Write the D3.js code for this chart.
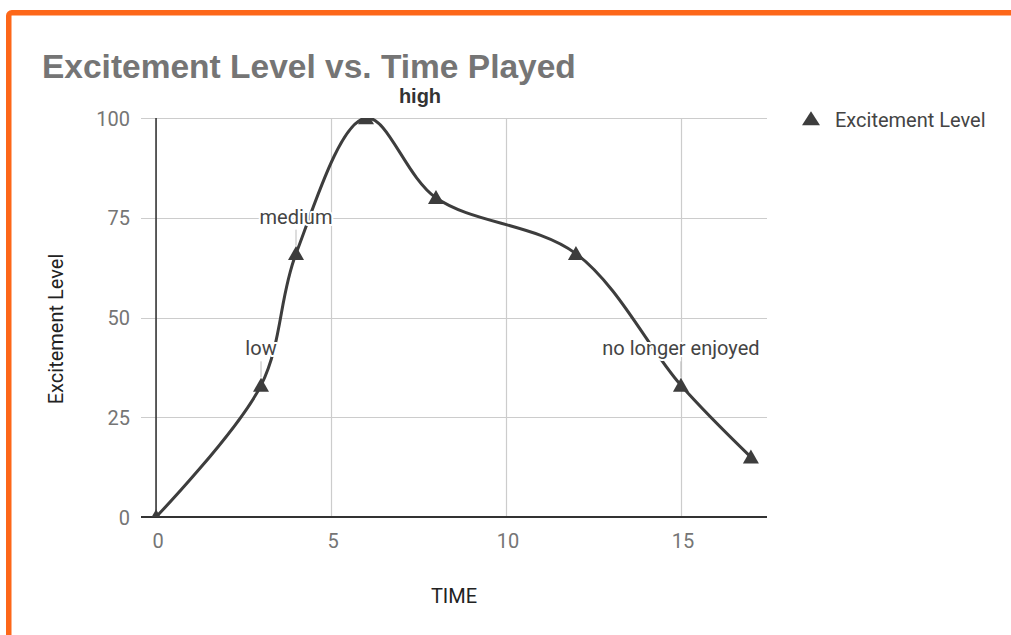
<!DOCTYPE html>
<html>
<head>
<meta charset="utf-8">
<script src="https://cdn.jsdelivr.net/npm/d3@7"></script>
<style>
  html, body { margin: 0; padding: 0; background: #fff; }
  svg { display: block; }
</style>
</head>
<body>
<svg id="chart" width="1011" height="635"></svg>
<script>
// Excitement level over time played
const chartTitle = "Excitement Level vs. Time Played";
const seriesName = "Excitement Level";
const xAxisTitle = "TIME";
const yAxisTitle = "Excitement Level";

const timePlayed = [0, 3, 4, 6, 8, 12, 15, 17];
const excitement = [0, 33, 66, 100, 80, 66, 33, 15];
const pointNotes = ["", "low", "medium", "high", "", "", "no longer enjoyed", ""];

const xTicks = [0, 5, 10, 15];
const yTicks = [0, 25, 50, 75, 100];

const svg = d3.select("#chart");
const W = 1011, H = 635;

const plot = { left: 141, right: 767, top: 118, bottom: 517 };

const x = d3.scaleLinear().domain([-0.43, 17.46]).range([plot.left, plot.right]);
const y = d3.scaleLinear().domain([0, 100]).range([plot.bottom, plot.top]);

const ink = "#3d3d3d";
const tickColor = "#757575";
const labelFont = "Roboto, 'Noto Sans', sans-serif";

svg.append("rect").attr("width", W).attr("height", H).attr("fill", "#fff");

// orange frame running off the right and bottom edges
svg.append("rect")
  .attr("x", 8.75).attr("y", 12.75)
  .attr("width", 1100).attr("height", 800)
  .attr("rx", 3)
  .attr("fill", "none")
  .attr("stroke", "#fd6719")
  .attr("stroke-width", 5.5);

// title
svg.append("text")
  .attr("x", 42).attr("y", 78)
  .attr("font-family", "'Liberation Sans', Arial, sans-serif")
  .attr("font-weight", "bold")
  .attr("font-size", 33.5)
  .attr("fill", "#757575")
  .text(chartTitle);

// gridlines
const grid = svg.append("g");
grid.selectAll("line.h")
  .data(yTicks.filter(d => d !== 0))
  .join("line")
  .attr("x1", plot.left).attr("x2", plot.right)
  .attr("y1", d => Math.round(y(d)) + 0.5).attr("y2", d => Math.round(y(d)) + 0.5)
  .attr("stroke", "#cccccc").attr("stroke-width", 1.2);
grid.selectAll("line.v")
  .data(xTicks.filter(d => d !== 0))
  .join("line")
  .attr("y1", plot.top).attr("y2", plot.bottom)
  .attr("x1", d => Math.round(x(d)) + 0.5).attr("x2", d => Math.round(x(d)) + 0.5)
  .attr("stroke", "#cccccc").attr("stroke-width", 1.2);

// baselines
svg.append("line")
  .attr("x1", x(0)).attr("x2", x(0))
  .attr("y1", plot.top).attr("y2", plot.bottom)
  .attr("stroke", "#333").attr("stroke-width", 1.6);
svg.append("line")
  .attr("x1", plot.left).attr("x2", plot.right)
  .attr("y1", y(0)).attr("y2", y(0))
  .attr("stroke", "#333").attr("stroke-width", 2);

// tick labels via axes (domain and tick lines hidden)
const yAxis = d3.axisLeft(y).tickValues(yTicks).tickSize(0).tickPadding(0);
const yAxisG = svg.append("g").attr("transform", `translate(${plot.left - 11},0)`).call(yAxis);
const xAxis = d3.axisBottom(x).tickValues(xTicks).tickSize(0).tickPadding(0);
const xAxisG = svg.append("g").attr("transform", `translate(1.5,${plot.bottom})`).call(xAxis);
[yAxisG, xAxisG].forEach(g => {
  g.select(".domain").remove();
  g.selectAll("text")
    .attr("font-family", labelFont)
    .attr("font-size", 20)
    .attr("fill", tickColor);
});
yAxisG.selectAll("text").attr("dy", "0.36em");
xAxisG.selectAll("text").attr("dy", null).attr("y", 31);

// axis titles
svg.append("text")
  .attr("x", (plot.left + plot.right) / 2).attr("y", 603)
  .attr("text-anchor", "middle")
  .attr("font-family", labelFont).attr("font-size", 20)
  .attr("fill", "#222")
  .text(xAxisTitle);
svg.append("text")
  .attr("transform", "translate(63,329) rotate(-90)")
  .attr("text-anchor", "middle")
  .attr("font-family", labelFont).attr("font-size", 20)
  .attr("fill", "#222")
  .text(yAxisTitle);

// clipped plotting area
svg.append("clipPath").attr("id", "plotClip")
  .append("rect")
  .attr("x", plot.left).attr("y", plot.top)
  .attr("width", plot.right - plot.left).attr("height", plot.bottom - plot.top);

const data = timePlayed.map((t, i) => ({ t, v: excitement[i], note: pointNotes[i] }));

const plotG = svg.append("g").attr("clip-path", "url(#plotClip)");

const line = d3.line()
  .x(d => x(d.t))
  .y(d => y(d.v))
  .curve(d3.curveCatmullRom.alpha(0.5));

plotG.append("path")
  .datum(data)
  .attr("d", line)
  .attr("fill", "none")
  .attr("stroke", ink)
  .attr("stroke-width", 3)
  .attr("stroke-linejoin", "round");

const tri = (w, h) => `M0,${-h * 0.55}L${w / 2},${h * 0.45}L${-w / 2},${h * 0.45}Z`;

plotG.selectAll("path.pt")
  .data(data)
  .join("path")
  .attr("class", "pt")
  .attr("transform", d => `translate(${x(d.t)},${y(d.v)})`)
  .attr("d", tri(16, 14))
  .attr("fill", ink);

// annotations
const notes = data.filter(d => d.note);
const annG = svg.append("g");
notes.forEach(d => {
  const px = x(d.t), py = y(d.v);
  const atTop = d.v >= 100;
  if (atTop) {
    annG.append("text")
      .attr("x", px + 54).attr("y", py - 15)
      .attr("text-anchor", "middle")
      .attr("font-family", "'Liberation Sans', Arial, sans-serif")
      .attr("font-weight", "bold")
      .attr("font-size", 20)
      .attr("fill", "#333")
      .text(d.note);
  } else {
    annG.append("line")
      .attr("x1", px).attr("x2", px)
      .attr("y1", py - 24).attr("y2", py - 8)
      .attr("stroke", "#bbb").attr("stroke-width", 1);
    annG.append("text")
      .attr("x", px).attr("y", py - 30)
      .attr("text-anchor", "middle")
      .attr("font-family", labelFont)
      .attr("font-size", 20)
      .attr("fill", "#444")
      .attr("stroke", "#fff")
      .attr("stroke-width", 4)
      .attr("paint-order", "stroke")
      .attr("stroke-linejoin", "round")
      .text(d.note);
  }
});

// legend
const legend = svg.append("g").attr("transform", "translate(811,119)");
legend.append("path").attr("d", tri(18, 14)).attr("fill", ink);
legend.append("text")
  .attr("x", 24).attr("y", 8)
  .attr("font-family", labelFont).attr("font-size", 20)
  .attr("fill", "#444")
  .text(seriesName);
</script>
</body>
</html>
